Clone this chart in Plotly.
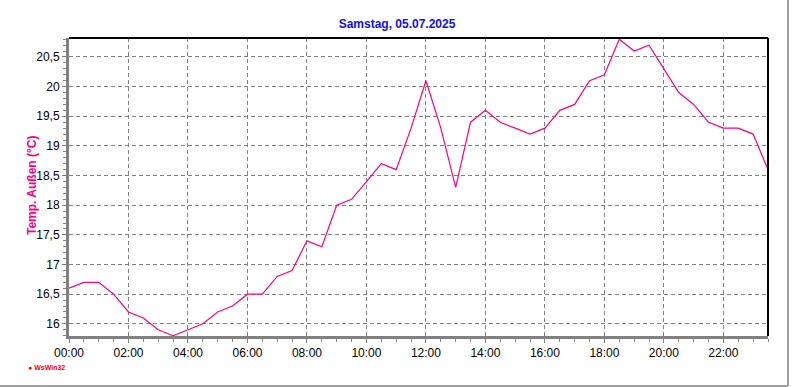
import plotly.graph_objects as go

title_text = "Samstag, 05.07.2025"
y_title = "Temp. Außen (°C)"
date = "2025-07-05"
times = ["00:00","00:30","01:00","01:30","02:00","02:30","03:00","03:30",
         "04:00","04:30","05:00","05:30","06:00","06:30","07:00","07:30",
         "08:00","08:30","09:00","09:30","10:00","10:30","11:00","11:30",
         "12:00","12:30","13:00","13:30","14:00","14:30","15:00","15:30",
         "16:00","16:30","17:00","17:30","18:00","18:30","19:00","19:30",
         "20:00","20:30","21:00","21:30","22:00","22:30","23:00","23:30"]
temps = [16.6,16.7,16.7,16.5,16.2,16.1,15.9,15.8,
         15.9,16.0,16.2,16.3,16.5,16.5,16.8,16.9,
         17.4,17.3,18.0,18.1,18.4,18.7,18.6,19.3,
         20.1,19.3,18.3,19.4,19.6,19.4,19.3,19.2,
         19.3,19.6,19.7,20.1,20.2,20.8,20.6,20.7,
         20.3,19.9,19.7,19.4,19.3,19.3,19.2,18.6]

x = [f"{date} {t}" for t in times]

W, H = 792, 387
L, R, T, B = 69, 24, 38, 51

fig = go.Figure()
fig.add_trace(go.Scatter(x=x, y=temps, mode="lines",
                         line=dict(color="#FF0080", width=1.2),
                         hoverinfo="skip", showlegend=False))

font = "Liberation Sans, Arial, sans-serif"
fig.update_layout(
    width=W, height=H, autosize=False,
    margin=dict(l=L, r=R, t=T, b=B),
    paper_bgcolor="white", plot_bgcolor="white",
    separators=",.",
    font=dict(family=font, size=12, color="black"),
    title=dict(text=f"<b>{title_text}</b>", x=(397)/W, xanchor="center",
               y=1 - 24/H, yanchor="middle",
               font=dict(family=font, size=12, color="#1010E8")),
)
fig.update_xaxes(
    type="date",
    range=[f"{date} 00:00", f"{date} 23:30"],
    dtick=2*3600*1000, tickformat="%H:%M",
    tick0=f"{date} 00:00",
    showgrid=True, gridcolor="#808080", griddash="4px,3px", gridwidth=1,
    showline=True, linecolor="#808080", linewidth=3,
    ticks="outside", ticklen=4, tickcolor="#808080", tickwidth=1,
    minor=dict(dtick=30*60*1000, ticks="outside", ticklen=3, tickcolor="#808080", showgrid=False),
    tickfont=dict(family=font, size=12, color="black"),
    zeroline=False, fixedrange=True,
)
fig.update_yaxes(
    range=[15.795, 20.82],
    dtick=0.5, tick0=16,
    showgrid=True, gridcolor="#808080", griddash="4px,3px", gridwidth=1,
    showline=True, linecolor="#808080", linewidth=3,
    ticks="outside", ticklen=4, tickcolor="#808080", tickwidth=1,
    minor=dict(dtick=0.1, tick0=16, ticks="outside", ticklen=3, tickcolor="#808080", showgrid=False),
    tickfont=dict(family=font, size=12, color="black"),
    zeroline=False, fixedrange=True,
)
# top and right black frame lines
fig.add_shape(type="line", xref="paper", yref="paper", x0=0, x1=1, y0=1, y1=1,
              line=dict(color="black", width=2))
fig.add_shape(type="line", xref="paper", yref="paper", x0=1, x1=1, y0=0, y1=1,
              line=dict(color="black", width=2))
# outer gray border right/bottom
pw, ph = W - L - R, H - T - B
fig.add_shape(type="line", xref="paper", yref="paper",
              x0=(788 - L)/pw, x1=(788 - L)/pw, y0=(H - B - 0)/ph, y1=(H - T)/ph + 0.0,
              line=dict(color="#A0A0A0", width=2), layer="above")
fig.add_shape(type="line", xref="paper", yref="paper",
              x0=-L/pw, x1=(788 - L)/pw, y0=-(386 - (H - B))/ph, y1=-(386 - (H - B))/ph,
              line=dict(color="#A0A0A0", width=2))
fig.add_shape(type="line", xref="paper", yref="paper",
              x0=(788 - L)/pw, x1=(788 - L)/pw, y0=-(386 - (H - B))/ph, y1=(H - T)/ph,
              line=dict(color="#A0A0A0", width=2))

fig.add_annotation(text=f"<b>{y_title}</b>", xref="paper", yref="paper",
                   x=(32 - L)/pw, y=(336 - 186)/ph, textangle=-90,
                   showarrow=False, xanchor="center", yanchor="middle",
                   font=dict(family=font, size=12, color="#FF0080"))
fig.add_annotation(text="<b>● WsWin32</b>", xref="paper", yref="paper",
                   x=(26 - L)/pw, y=-(367 - 336)/ph, xanchor="left", yanchor="middle",
                   showarrow=False, font=dict(family=font, size=7, color="#FF0000"))

fig.write_html("out.html")
